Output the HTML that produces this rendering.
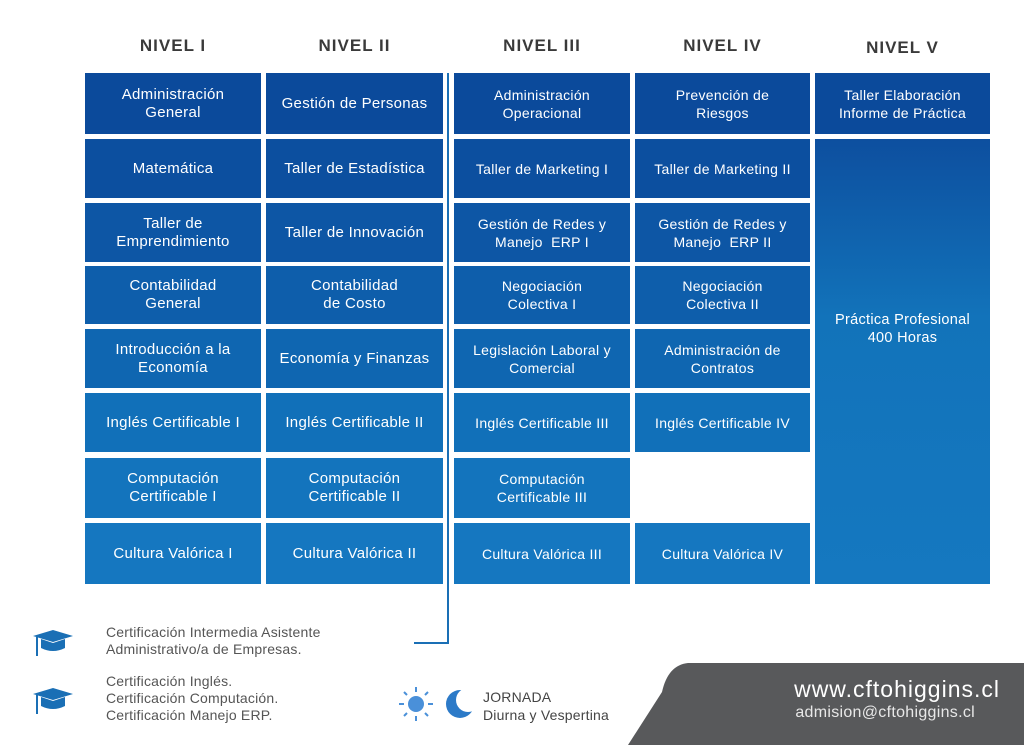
<!DOCTYPE html>
<html><head><meta charset="utf-8"><style>
body{margin:0;width:1024px;height:745px;background:#fff;position:relative;overflow:hidden;font-family:"Liberation Sans",sans-serif}
.h{position:absolute;top:36px;font-weight:bold;font-size:17px;color:#3a3a3a;text-align:center;letter-spacing:1px}
.c{position:absolute;display:flex;align-items:center;justify-content:center;text-align:center;color:#fff;font-size:14.5px;line-height:18px;letter-spacing:.3px}
.t{position:absolute;color:#555;font-size:14px;line-height:17px;letter-spacing:.2px}
</style></head><body>
<div class="h" style="left:85px;width:176px">NIVEL I</div>
<div class="h" style="left:266px;width:177px">NIVEL II</div>
<div class="h" style="left:454px;width:176px">NIVEL III</div>
<div class="h" style="left:635px;width:175px">NIVEL IV</div>
<div class="h" style="left:815px;width:175px;top:38px">NIVEL V</div>
<div id="g"></div>
<div style="position:absolute;left:447px;top:73px;width:2px;height:571px;background:#1a6fb5"></div>
<div style="position:absolute;left:414px;top:642px;width:35px;height:2px;background:#1a6fb5"></div>
<div class="c" style="left:815px;top:139px;width:175px;height:445px;background:linear-gradient(#0d4f9f,#1273ba 40%,#1578c0);align-items:flex-start"><div style="margin-top:172px">Práctica Profesional<br>400 Horas</div></div>
<script>
var rows=[[73,134],[139,198],[203,262],[266,324],[329,388],[393,452],[458,518],[523,584]];
var cols=[[85,261],[266,443],[454,630],[635,810],[815,990]];
var cl=['#0b4a9b','#0c4f9f','#0d56a5','#0e5eab','#0f66b1','#1170b9','#1374bd','#1577c0'];
var d=[["Administración<br>General","Gestión de Personas","Administración<br>Operacional","Prevención de<br>Riesgos","Taller Elaboración<br>Informe de Práctica"],
["Matemática","Taller de Estadística","Taller de Marketing I","Taller de Marketing II"],
["Taller de<br>Emprendimiento","Taller de Innovación","Gestión de Redes y<br>Manejo &nbsp;ERP I","Gestión de Redes y<br>Manejo &nbsp;ERP II"],
["Contabilidad<br>General","Contabilidad<br>de Costo","Negociación<br>Colectiva I","Negociación<br>Colectiva II"],
["Introducción a la<br>Economía","Economía y Finanzas","Legislación Laboral y<br>Comercial","Administración de<br>Contratos"],
["Inglés Certificable I","Inglés Certificable II","Inglés Certificable III","Inglés Certificable IV"],
["Computación<br>Certificable I","Computación<br>Certificable II","Computación<br>Certificable III",null],
["Cultura Valórica I","Cultura Valórica II","Cultura Valórica III","Cultura Valórica IV"]];
var h='';
d.forEach(function(r,i){r.forEach(function(t,j){if(t==null)return;var c=cols[j],w=rows[i];
h+='<div class="c" style="left:'+c[0]+'px;top:'+w[0]+'px;width:'+(c[1]-c[0])+'px;height:'+(w[1]-w[0])+'px;background:'+cl[i]+';font-size:'+(j>=2?14:15)+'px">'+t+'</div>';});});
document.getElementById('g').innerHTML=h;
</script>
<svg style="position:absolute;left:30px;top:628px" width="50" height="30"><polygon points="3,8 23,2 43,8 23,14" fill="#1a6fb5"/><path d="M11,11 L11,20 Q23,26 35,20 L35,11 L23,15Z" fill="#1a6fb5"/><rect x="6" y="9" width="2" height="19" fill="#1a6fb5"/></svg>
<svg style="position:absolute;left:30px;top:686px" width="50" height="30"><polygon points="3,8 23,2 43,8 23,14" fill="#1a6fb5"/><path d="M11,11 L11,20 Q23,26 35,20 L35,11 L23,15Z" fill="#1a6fb5"/><rect x="6" y="9" width="2" height="19" fill="#1a6fb5"/></svg>
<div class="t" style="left:106px;top:624px">Certificación Intermedia Asistente<br>Administrativo/a de Empresas.</div>
<div class="t" style="left:106px;top:673px">Certificación Inglés.<br>Certificación Computación.<br>Certificación Manejo ERP.</div>
<svg style="position:absolute;left:396px;top:684px" width="80" height="40"><circle cx="20" cy="20" r="8" fill="#4a90d9"/><g stroke="#4a90d9" stroke-width="2"><line x1="20" y1="3" x2="20" y2="8"/><line x1="20" y1="32" x2="20" y2="37"/><line x1="3" y1="20" x2="8" y2="20"/><line x1="32" y1="20" x2="37" y2="20"/><line x1="8" y1="8" x2="11" y2="11"/><line x1="29" y1="29" x2="32" y2="32"/><line x1="8" y1="32" x2="11" y2="29"/><line x1="29" y1="11" x2="32" y2="8"/></g><circle cx="64" cy="20" r="14" fill="#2c7ac8"/><circle cx="72" cy="16" r="12" fill="#fff"/></svg>
<div class="t" style="left:483px;top:688px;color:#444;line-height:18px">JORNADA<br>Diurna y Vespertina</div>
<svg style="position:absolute;left:0;top:0" width="1024" height="745"><path d="M1024,663 L688,663 Q668,665 662,692 L628,745 L1024,745Z" fill="#58595b"/></svg>
<div style="position:absolute;left:690px;top:676px;width:310px;text-align:right;color:#fff;font-size:23px;letter-spacing:1px">www.cftohiggins.cl</div>
<div style="position:absolute;left:690px;top:704px;width:285px;text-align:right;color:#e8e8e8;font-size:16px;letter-spacing:.3px">admision@cftohiggins.cl</div>
</body></html>
